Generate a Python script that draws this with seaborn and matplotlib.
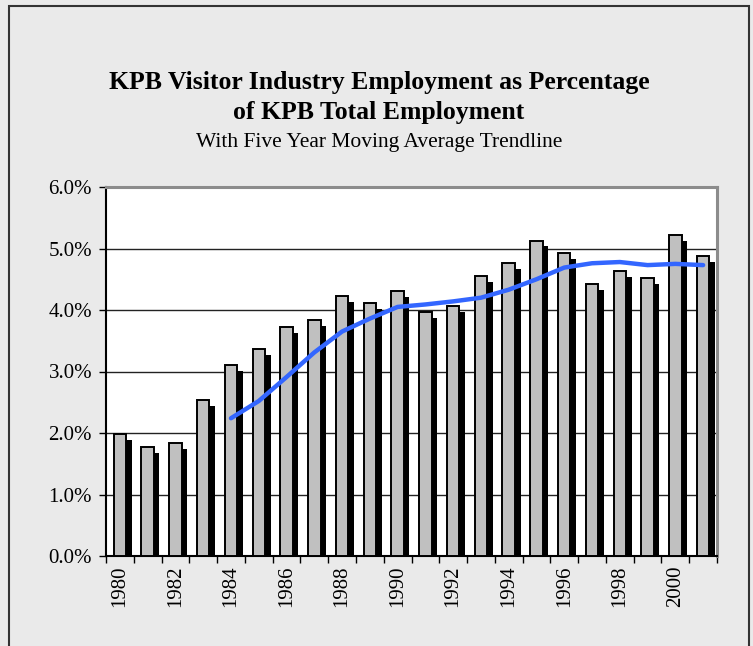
import numpy as np
import pandas as pd
import matplotlib
matplotlib.use("Agg")
import matplotlib.pyplot as plt
import matplotlib.patheffects as pe
from matplotlib.patches import Rectangle
import seaborn as sns

# ---- data ----
years = [1980, 1981, 1982, 1983, 1984, 1985, 1986, 1987, 1988, 1989, 1990,
         1991, 1992, 1993, 1994, 1995, 1996, 1997, 1998, 1999, 2000, 2001]
share_pct = [1.98, 1.77, 1.83, 2.53, 3.10, 3.36, 3.73, 3.84, 4.23, 4.12, 4.31,
             3.97, 4.07, 4.55, 4.76, 5.13, 4.93, 4.42, 4.64, 4.52, 5.22, 4.87]
trend_years = [1984, 1985, 1986, 1987, 1988, 1989, 1990, 1991, 1992, 1993,
               1994, 1995, 1996, 1997, 1998, 1999, 2000, 2001]
trend_pct = [2.24, 2.52, 2.91, 3.31, 3.65, 3.86, 4.05, 4.09, 4.14, 4.20,
             4.33, 4.50, 4.69, 4.76, 4.78, 4.73, 4.75, 4.73]
y_ticks = [0, 1, 2, 3, 4, 5, 6]
y_ticklabels = ["0.0%", "1.0%", "2.0%", "3.0%", "4.0%", "5.0%", "6.0%"]
title_lines = ["KPB Visitor Industry Employment as Percentage", "of KPB Total Employment"]
subtitle = "With Five Year Moving Average Trendline"

sns.set_style("white")
plt.rcParams["font.family"] = ["Liberation Serif", "DejaVu Serif"]
plt.rcParams["text.color"] = "black"
plt.rcParams["xtick.color"] = "black"
plt.rcParams["ytick.color"] = "black"

W, H = 753, 646
fig = plt.figure(figsize=(W / 100, H / 100), dpi=100, facecolor="#EAEAEA")
ax = fig.add_axes([106 / W, 1 - 556 / H, (717 - 106) / W, (556 - 187) / H])
ax.set_facecolor("white")

df = pd.DataFrame({"year": [str(y) for y in years], "pct": share_pct})
sns.barplot(data=df, x="year", y="pct", color="#C0C0C0", saturation=1,
            edgecolor="black", linewidth=1.4, width=0.45, ax=ax, zorder=3)
for p in ax.patches:
    p.set_path_effects([pe.SimplePatchShadow(offset=(4.0, -4.3), shadow_rgbFace="black",
                                             alpha=1.0), pe.Normal()])

pos = {y: i for i, y in enumerate(years)}
tdf = pd.DataFrame({"x": [pos[y] for y in trend_years], "pct": trend_pct})
sns.lineplot(data=tdf, x="x", y="pct", color="#3366FF", linewidth=3.2, ax=ax,
             zorder=5, solid_capstyle="round", solid_joinstyle="round")

ax.set_xlim(-0.5, len(years) - 0.5)
ax.set_ylim(0, 6)
ax.set_yticks(y_ticks)
ax.set_yticklabels(y_ticklabels, fontsize=15, color="black")
ax.yaxis.grid(True, color="#222222", linewidth=1.0, zorder=0)
ax.set_axisbelow(True)

ax.set_xticks(np.arange(-0.5, len(years), 1))
ax.set_xticklabels([])
ax.set_xticks(np.arange(0, len(years), 2), minor=True)
ax.set_xticklabels([str(y) for y in years[::2]], minor=True, rotation=90,
                   fontsize=15, color="black")
ax.tick_params(axis="x", which="major", direction="out", length=5, width=1, color="black", bottom=True)
ax.tick_params(axis="x", which="minor", length=0, pad=7)
ax.tick_params(axis="y", direction="out", length=5, width=1, color="black", left=True, pad=5)
ax.set_xlabel("")
ax.set_ylabel("")

for side in ["left", "bottom"]:
    ax.spines[side].set_color("black")
    ax.spines[side].set_linewidth(1.5)
for side in ["top", "right"]:
    ax.spines[side].set_visible(True)
    ax.spines[side].set_color("#8C8C8C")
    ax.spines[side].set_linewidth(2.2)

fig.text(379 / W, 1 - 82 / H, title_lines[0], ha="center", va="center",
         fontsize=18.5, fontweight="bold", color="black")
fig.text(379 / W, 1 - 112 / H, title_lines[1], ha="center", va="center",
         fontsize=18.5, fontweight="bold", color="black")
fig.text(379 / W, 1 - 143 / H, subtitle, ha="center", va="center", fontsize=15.5,
         color="black")

fig.patches.append(Rectangle((9 / W, -0.02), (749 - 9) / W, 1.02 - 6 / H,
                             transform=fig.transFigure, fill=False,
                             edgecolor="#333333", linewidth=1.5))

fig.savefig("out.png", dpi=100, facecolor=fig.get_facecolor())
